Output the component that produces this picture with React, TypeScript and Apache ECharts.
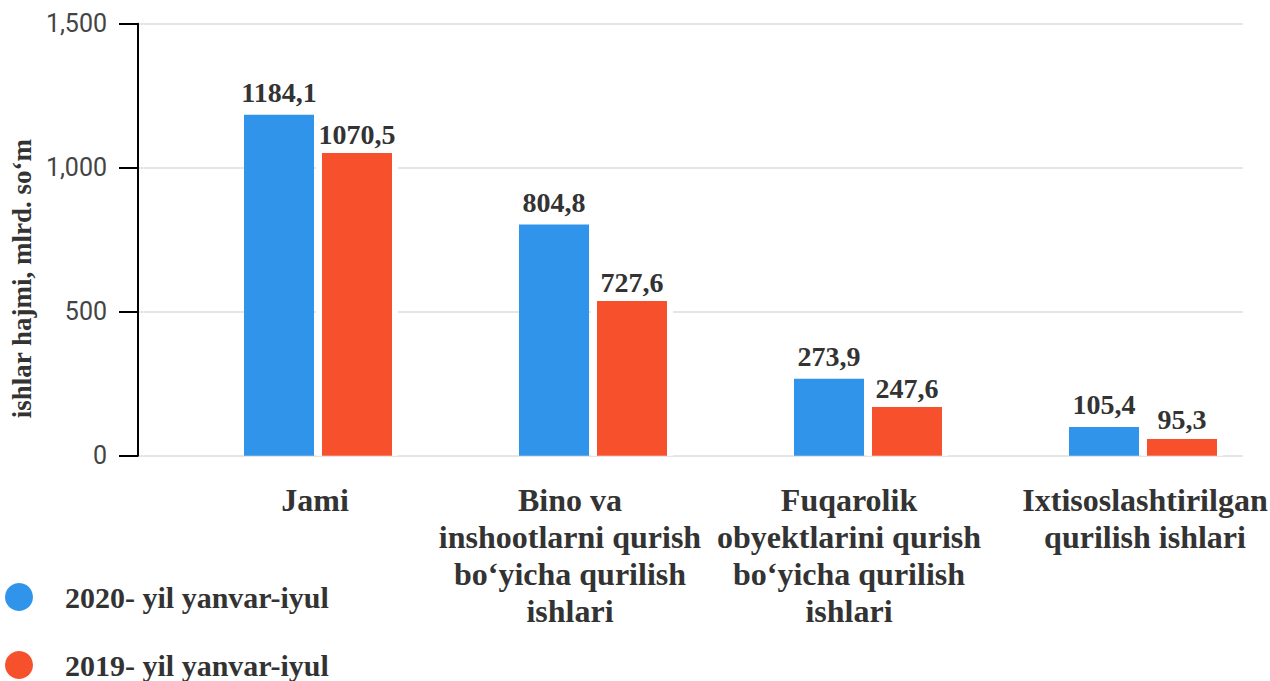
import React, { useEffect, useRef } from 'react';
import * as echarts from 'echarts';

// ---- data ----
const categories = [
  'Jami',
  'Bino va\ninshootlarni qurish\nbo‘yicha qurilish\nishlari',
  'Fuqarolik\nobyektlarini qurish\nbo‘yicha qurilish\nishlari',
  'Ixtisoslashtirilgan\nqurilish ishlari',
];
const seriesName2020 = '2020- yil yanvar-iyul';
const seriesName2019 = '2019- yil yanvar-iyul';
// bar heights as drawn in the picture
const values2020 = [1184.1, 803, 267, 100];
const values2019 = [1051, 537, 169, 58];
// value labels as printed in the picture
const labels2020 = ['1184,1', '804,8', '273,9', '105,4'];
const labels2019 = ['1070,5', '727,6', '247,6', '95,3'];
const yMin = 0;
const yMax = 1500;
const yInterval = 500;
const yAxisTitle = 'ishlar hajmi, mlrd. so‘m';

// ---- style ----
const SERIF = "'Liberation Serif', 'Times New Roman', serif";
const BLUE = '#2F94EA';
const RED = '#F6502C';
const TEXT = '#333333';
// per-category label nudges: [right padding, left padding]
const labelPads = [
  [6, 0],
  [46, 0],
  [38, 0],
  [0, 4],
];
const HALO_VALUE = 20; // white halo around the 2019 bars (in value units, ~6px)

export default function App() {
  const ref = useRef<HTMLDivElement>(null);

  useEffect(() => {
    if (!ref.current) return;
    const chart = echarts.init(ref.current, undefined, { renderer: 'svg' });

    const rich: Record<string, any> = {};
    labelPads.forEach((p, i) => {
      rich['r' + i] = {
        fontFamily: SERIF,
        fontWeight: 'bold',
        fontSize: 32,
        lineHeight: 37,
        color: TEXT,
        padding: [0, p[0], 0, p[1]],
      };
    });

    const gridBox = { top: 23.7, bottom: 225.3 };
    const barGap = '11.4%';

    const option: any = {
      animation: false,
      backgroundColor: '#ffffff',
      grid: [
        { left: 138, right: 57, ...gridBox },
        { left: 180.5, width: 1100, ...gridBox },
        { left: 180.5, width: 1100, ...gridBox },
      ],
      xAxis: [
        { type: 'value', gridIndex: 0, show: false, min: 0, max: 1 },
        {
          type: 'category',
          gridIndex: 1,
          data: categories,
          axisLine: { show: false },
          axisTick: { show: false },
          splitLine: { show: false },
          axisLabel: {
            interval: 0,
            margin: 26,
            formatter: (value: string, index: number) =>
              value
                .split('\n')
                .map((l) => `{r${index}|${l}}`)
                .join('\n'),
            rich,
          },
        },
        { type: 'category', gridIndex: 2, data: categories, show: false },
      ],
      yAxis: [
        {
          type: 'value',
          gridIndex: 0,
          min: yMin,
          max: yMax,
          interval: yInterval,
          axisLine: { show: true, lineStyle: { color: '#000', width: 2 } },
          axisTick: { show: true, length: 19, lineStyle: { color: '#000', width: 2 } },
          axisLabel: {
            margin: 31,
            fontFamily: 'Roboto',
            fontSize: 25,
            color: '#444',
            formatter: (v: number) => v.toLocaleString('en-US'),
          },
          splitLine: { show: true, lineStyle: { color: '#e6e6e6', width: 2 } },
          name: yAxisTitle,
          nameLocation: 'middle',
          nameRotate: 90,
          nameGap: 95,
          nameTextStyle: {
            fontFamily: SERIF,
            fontWeight: 'bold',
            fontSize: 27,
            color: TEXT,
            padding: [0, 78, 0, 0],
          },
        },
        { type: 'value', gridIndex: 1, min: yMin, max: yMax, show: false },
        { type: 'value', gridIndex: 2, min: yMin, max: yMax, show: false },
      ],
      legend: {
        orient: 'vertical',
        left: 5,
        top: 582,
        padding: 0,
        icon: 'circle',
        itemWidth: 28,
        itemHeight: 28,
        itemGap: 38,
        data: [seriesName2020, seriesName2019],
        textStyle: {
          fontFamily: SERIF,
          fontWeight: 'bold',
          fontSize: 30,
          lineHeight: 30,
          color: TEXT,
          padding: [0, 0, 0, 27],
        },
      },
      series: [
        // placeholder + halo on the overlay grid (white gaps around the 2019 bars)
        {
          name: 'placeholder',
          type: 'bar',
          xAxisIndex: 2,
          yAxisIndex: 2,
          data: [],
          barWidth: 70,
          barGap,
          silent: true,
          z: 1,
        },
        {
          name: 'halo',
          type: 'bar',
          xAxisIndex: 2,
          yAxisIndex: 2,
          data: values2019.map((v) => v + HALO_VALUE),
          barWidth: 82,
          barGap,
          silent: true,
          z: 1,
          itemStyle: { color: '#ffffff' },
        },
        {
          name: seriesName2020,
          type: 'bar',
          xAxisIndex: 1,
          yAxisIndex: 1,
          data: values2020,
          barWidth: 70,
          barGap,
          z: 2,
          itemStyle: { color: BLUE },
          label: {
            show: true,
            position: 'top',
            distance: 8,
            formatter: (p: any) => labels2020[p.dataIndex],
            fontFamily: SERIF,
            fontWeight: 'bold',
            fontSize: 28,
            color: TEXT,
          },
        },
        {
          name: seriesName2019,
          type: 'bar',
          xAxisIndex: 1,
          yAxisIndex: 1,
          data: values2019,
          barWidth: 70,
          barGap,
          z: 2,
          itemStyle: { color: RED },
          label: {
            show: true,
            position: 'top',
            distance: 5,
            formatter: (p: any) => labels2019[p.dataIndex],
            fontFamily: SERIF,
            fontWeight: 'bold',
            fontSize: 28,
            color: TEXT,
          },
        },
      ],
    };

    chart.setOption(option);
    return () => chart.dispose();
  }, []);

  return (
    <div
      style={{
        position: 'absolute',
        left: 0,
        top: 0,
        width: 1270,
        height: 681,
        overflow: 'hidden',
        background: '#fff',
      }}
    >
      <div ref={ref} style={{ width: 1300, height: 681 }} />
    </div>
  );
}
